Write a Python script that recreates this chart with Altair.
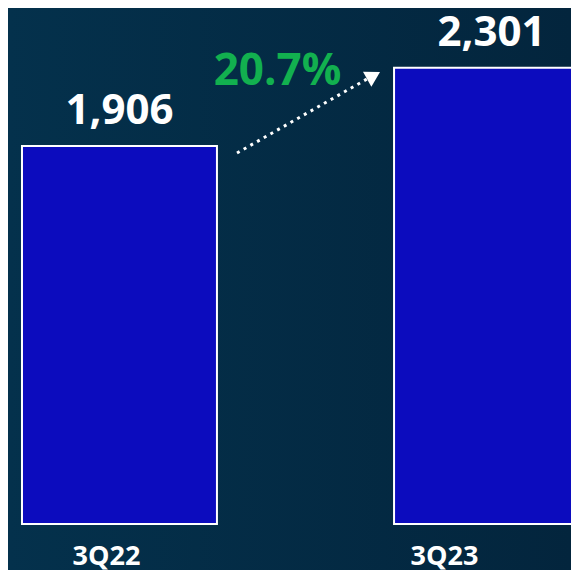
import altair as alt
import pandas as pd

# ---- data ----
quarters = ["3Q22", "3Q23"]
values = [1906, 2301]
growth = values[1] / values[0] - 1
growth_label = [f"{growth * 100:.1f}%"]

df = pd.DataFrame({"quarter": quarters, "value": values})
ann = pd.DataFrame({"label": growth_label})

W, H = 563, 562
FONT = "Open Sans"

x = alt.X("quarter:N", sort=quarters, axis=None,
          scale=alt.Scale(range=[0, 595], paddingInner=0.476, paddingOuter=0.0376))
y = alt.Y("value:Q", axis=None,
          scale=alt.Scale(domain=[-232, 2602], nice=False, zero=False))

bg = alt.Chart(ann).mark_rect(
    color={"gradient": "linear", "x1": 0, "x2": 1, "y1": 0, "y2": 0,
           "stops": [{"offset": 0, "color": "#04314C"},
                     {"offset": 1, "color": "#03253D"}]}
).encode(x=alt.value(0), x2=alt.value(W), y=alt.value(0), y2=alt.value(H))

bars = alt.Chart(df).mark_bar(
    color="#0C0CBE", stroke="white", strokeWidth=2, clip=True
).encode(x=x, y=y, y2=alt.datum(0))

value_labels = alt.Chart(df).mark_text(
    font=FONT, fontWeight="bold", fontSize=42, color="white",
    baseline="alphabetic", dy=-22
).encode(x=x, y=y, text=alt.Text("value:Q", format=","))

cat_labels = alt.Chart(df).mark_text(
    font=FONT, fontWeight="bold", fontSize=27, color="white",
    baseline="alphabetic",
    dx=alt.ExprRef("datum.quarter == '3Q22' ? -13 : -47")
).encode(x=x, y=alt.value(557), text="quarter:N")

pct = alt.Chart(ann).mark_text(
    font=FONT, fontWeight="bold", fontSize=44, color="#12B04F",
    baseline="alphabetic"
).encode(x=alt.value(269.5), y=alt.value(77), text="label:N")

arrow_line = alt.Chart(ann).mark_rule(
    color="white", strokeWidth=3, strokeDash=[3, 4.7]
).encode(x=alt.value(229), y=alt.value(145), x2=alt.value(359), y2=alt.value(71))

arrow_head = alt.Chart(ann).mark_point(
    shape="triangle-up", filled=True, color="white", size=290, angle=60.5, opacity=1
).encode(x=alt.value(365.6), y=alt.value(67.6))

chart = alt.layer(bg, bars, value_labels, cat_labels, pct, arrow_line, arrow_head).properties(
    width=W, height=H, padding=0,
    autosize=alt.AutoSizeParams(type="none"),
    background="#04304A"
).configure_view(strokeWidth=0)

chart.save("out.html", embed_options={"renderer": "svg", "actions": False})
